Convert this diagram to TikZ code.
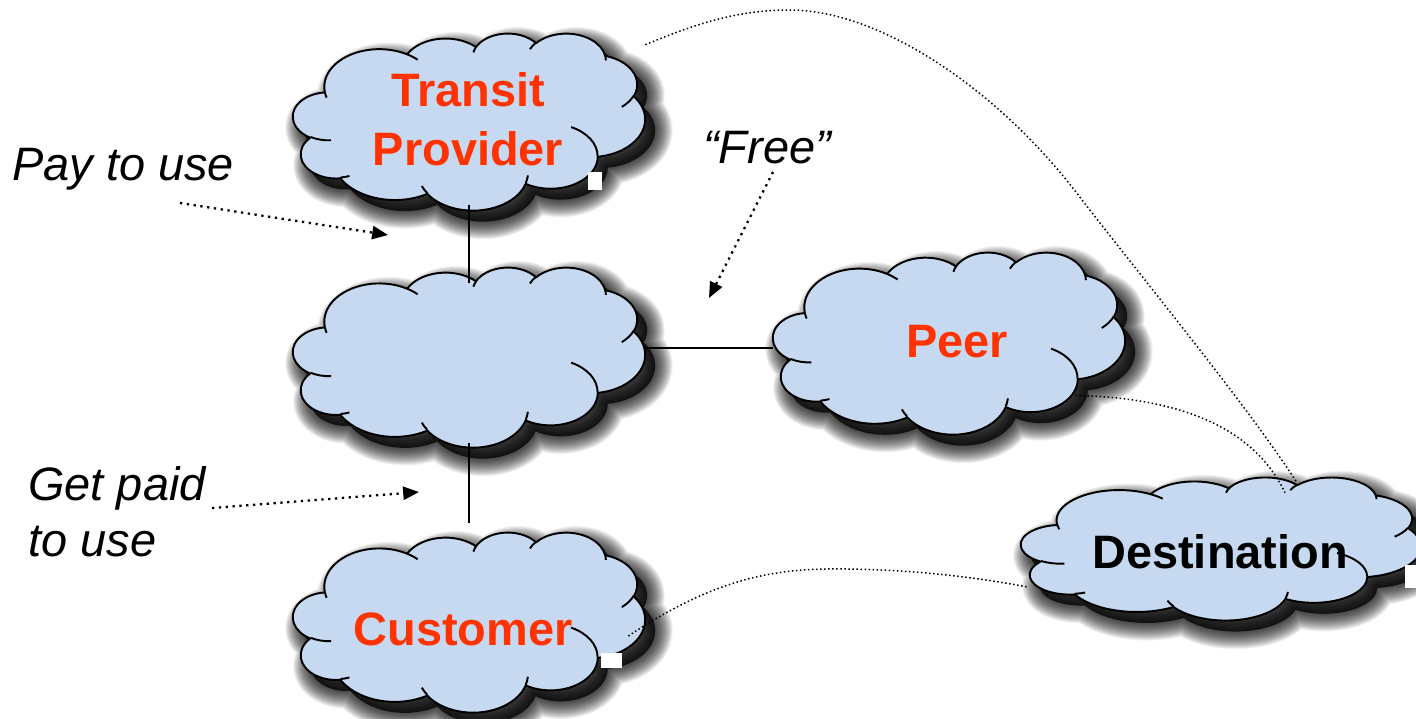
\documentclass[tikz,border=0pt]{standalone}
\usepackage{fontspec}
\setmainfont{Liberation Sans}
\usetikzlibrary{arrows.meta,calc}
\definecolor{cloudfill}{RGB}{198,217,240}
\definecolor{labelred}{RGB}{255,51,0}
\tikzset{
  declare function={
    pa(\qa,\qb,\qt)=atan2(\qa*sin(\qt),\qb*cos(\qt));
    pe(\qa,\qb,\qt,\qs)=pa(\qa,\qb,\qt+\qs)+360*round((pa(\qa,\qb,\qt)+\qs-pa(\qa,\qb,\qt+\qs))/360);
  },
  cloudline/.style={draw=black, line width=1.1pt, line join=round},
  cloudlabel/.style={font=\fontsize{26.7}{33.6}\selectfont\bfseries, text=labelred, inner sep=0pt},
  annot/.style={font=\fontsize{26.7}{32}\selectfont\itshape, inner sep=0pt},
  box/.style={inner sep=0pt, draw=none},
  link/.style={line width=1.1pt},
  pointer/.style={line width=1.3pt, dash pattern=on 1.3pt off 2.6pt, -{Triangle[length=9pt,width=7.5pt]}},
  route/.style={line width=0.85pt, dash pattern=on 0.85pt off 1.45pt},
}
\newcommand\oarc[4]{arc[x radius=#1,y radius=#2,start angle={pa(#1,#2,#3)},end angle={pe(#1,#2,#3,#4)}]}
\newcommand\cloudouter{(3.9,14.37)
 \oarc{6.753}{9.19}{-190.48748}{123.78053}
 \oarc{5.333}{7.267}{-144.10238}{89.94523}
 \oarc{4.365}{5.945}{-145.80792}{99.72302}
 \oarc{4.857}{6.595}{-130.98607}{117.24173}
 \oarc{5.333}{7.273}{-78.70888}{109.02692}
 \oarc{6.775}{9.22}{-46.26725}{130.269}
 \oarc{5.785}{7.867}{0.62502}{114.03333}
 \oarc{6.752}{9.215}{22.4516}{115.17255}
 \oarc{7.72}{10.543}{66.24263}{75.71102}
 \oarc{4.36}{5.918}{-274.94208}{146.73557}
 \oarc{4.345}{5.945}{-246.8285}{152.51885}
 -- cycle}
\newcommand\cloudinner{
 (4.693,26.177) \oarc{4.345}{5.945}{86.742}{26.4295}
 (6.928,34.899) \oarc{4.36}{5.918}{73.61047}{11.44747}
 (16.478,39.09) \oarc{6.752}{9.215}{137.62415}{14.0811}
 (28.827,34.751) \oarc{6.752}{9.215}{6.45327}{15.99835}
 (34.129,22.954) \oarc{5.785}{7.867}{-70.29235}{70.91737}
 (41.798,15.354) \oarc{5.333}{7.273}{30.31803}{27.7515}
 (38.324,5.426) \oarc{4.857}{6.595}{-13.74433}{14.8589}
 (29.078,3.952) \oarc{4.857}{6.595}{-149.18145}{18.19537}
 (22.141,4.72) \oarc{4.365}{5.945}{-163.49427}{17.68635}
 (14,5.192) \oarc{6.753}{9.19}{-66.70695}{12.31935}
 (4.127,15.789) \oarc{6.753}{9.19}{157.65435}{11.85817}}
% #1,#2 top-left (px), #3 width, #4 height
\newcommand\drawcloud[4]{%
  \begin{scope}[shift={(#1+10,#2+11)},xscale=#3/43.2,yscale=#4/43.2]
    \fill[black, opacity=0.7]\cloudouter;
    \foreach \lw in {1,2,...,20}{\draw[line width=\lw pt, black, opacity=0.055, line join=round] \cloudouter;}
  \end{scope}
  \begin{scope}[shift={(#1,#2)},xscale=#3/43.2,yscale=#4/43.2]
    \fill[cloudfill]\cloudouter;
    \draw[cloudline]\cloudouter;
    \draw[cloudline]\cloudinner;
  \end{scope}
}
\begin{document}
\begin{tikzpicture}[x=0.02cm,y=-0.02cm]
\useasboundingbox (0,0) rectangle (1416,718);
\fill[white] (0,0) rectangle (1416,718);

% clouds
\drawcloud{293}{33}{352}{177}
\drawcloud{293}{267}{352}{180}
\drawcloud{773}{252}{352}{182}
\drawcloud{293}{532}{352}{180}
\drawcloud{1021}{477}{400}{143}

% named boxes for the clouds
\node[box, minimum width=7.04cm, minimum height=3.54cm] (tp) at (469,121.5) {};
\node[box, minimum width=7.04cm, minimum height=3.6cm] (mid) at (469,357) {};
\node[box, minimum width=7.04cm, minimum height=3.64cm] (peer) at (949,343) {};
\node[box, minimum width=7.04cm, minimum height=3.6cm] (cust) at (469,622) {};
\node[box, minimum width=8cm, minimum height=2.86cm] (dest) at (1221,548.5) {};

% solid links
\draw[link] ($(tp.south)+(0,-5)$) -- ($(mid.north)+(0,16)$);
\draw[link] ($(mid.south)+(0,-4)$) -- ($(cust.north)+(0,-9)$);
\draw[link] ($(mid.east)+(0,-9)$) coordinate (h1) -- (h1 -| peer.west);

% dotted routes to destination
\draw[route] ($(tp.north east)+(0,12)$) .. controls (700,22) and (740,10) .. (790,10)
  .. controls (880,10) and (1000,90) .. (1082,200)
  .. controls (1160,300) and (1250,410) .. ($(dest.north)+(76,6)$);
\draw[route] ($(peer.south east)+(-50,-39)$) .. controls (1185,398) and (1255,430) .. ($(dest.north)+(64,16)$);
\draw[route] ($(cust.east)+(-17,14)$) .. controls (720,575) and (780,568) .. (847,569)
  .. controls (920,570) and (980,578) .. ($(dest.west)+(7,38.5)$);

% white patches of the text boxes
\fill[white] (588,172) rectangle (602,190);
\fill[white] (601,653) rectangle (622,668);
\fill[white] (1405,565) rectangle (1416,588);

% cloud labels
\node[cloudlabel, align=center, anchor=north] (tpl) at (468,72) {Transit\\Provider};
\node[cloudlabel, anchor=base] (peerl) at (957,357) {Peer};
\node[cloudlabel, anchor=base] (custl) at (463,645) {Customer};
\node[cloudlabel, text=black, anchor=base] (destl) at (1220,568) {Destination};

% annotations
\node[annot, anchor=base west] (pay) at (12,180) {Pay to use};
\node[annot, align=left, anchor=north west] (paid) at (28,466) {Get paid\\to use};
\node[annot, anchor=base] (free) at (767,163) {“Free”};
\coordinate (payA) at (180,203);
\coordinate (payB) at (388,235);
\coordinate (paidA) at (212,508);
\coordinate (paidB) at (419,492);
\coordinate (freeA) at (773,172);
\coordinate (freeB) at (709,298);
\draw[pointer] (payA) -- (payB);
\draw[pointer] (paidA) -- (paidB);
\draw[pointer] (freeA) -- (freeB);
\end{tikzpicture}
\end{document}
